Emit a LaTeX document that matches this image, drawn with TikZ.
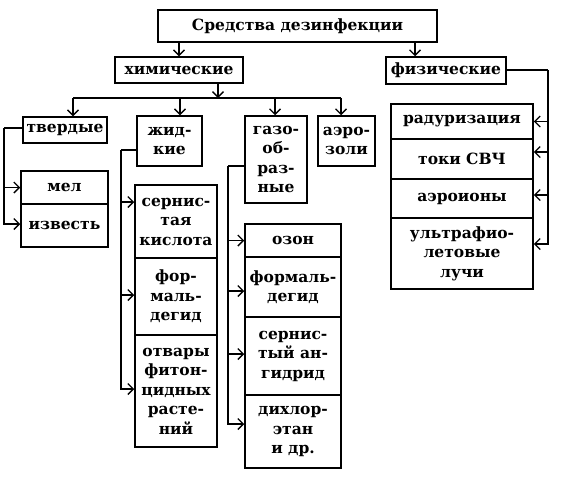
\documentclass[tikz,border=0pt]{standalone}
\usepackage{fontspec}
\setmainfont{DejaVu Serif}
\usetikzlibrary{arrows.meta}
\newcommand\cellbox[6]{\node[box, minimum width={(#4-#2)*1pt}, minimum height={(#5-#3)*1pt}] (#1) at ({(#2+#4)/2},{(#3+#5)/2}) {#6};}
\begin{document}
\begin{tikzpicture}[x=1pt,y=-1pt,
  box/.style={draw, line width=1.5pt, inner sep=0pt, align=center, font=\fontsize{15.5}{19.5}\selectfont\bfseries},
  conn/.style={line width=1.2pt},
  arr/.style={conn, -{Straight Barb[length=5.5pt,width=11pt,line width=1.4pt]}}]
\useasboundingbox (0,0) rectangle (586,477);
% top
\cellbox{title}{158}{10}{437}{42}{Средства дезинфекции}
\cellbox{chem}{115}{57}{243}{83}{химические}
\cellbox{phys}{386}{57}{506}{84}{физические}
% second level
\cellbox{tv}{23}{117}{107}{143}{твердые}
\cellbox{zh}{137}{116}{202}{166}{жид-\\кие}
\cellbox{gas}{245}{116}{307}{203}{газо-\\об-\\раз-\\ные}
\cellbox{aer}{318}{116}{375}{166}{аэро-\\золи}
% solids
\cellbox{mel}{21}{171}{108}{204}{мел}
\cellbox{izv}{21}{204}{108}{247}{известь}
% liquids
\cellbox{sern}{135}{185}{217}{258}{сернис-\\тая\\кислота}
\cellbox{formA}{135}{258}{217}{335}{фор-\\маль-\\дегид}
\cellbox{otv}{135}{335}{217}{447}{отвары\\фитон-\\цидных\\расте-\\ний}
% gases
\cellbox{ozon}{245}{224}{341}{257}{озон}
\cellbox{formB}{245}{257}{341}{317}{формаль-\\дегид}
\cellbox{sang}{245}{317}{341}{395}{сернис-\\тый ан-\\гидрид}
\cellbox{dich}{245}{395}{341}{468}{дихлор-\\этан\\и др.}
% physical
\cellbox{rad}{391}{104}{533}{139}{радуризация}
\cellbox{svch}{391}{139}{533}{179}{токи СВЧ}
\cellbox{aeroi}{391}{179}{533}{218}{аэроионы}
\cellbox{uf}{391}{218}{533}{289}{ультрафио-\\летовые\\лучи}
% connectors from title
\draw[arr] (title.south -| chem.north) -- (chem.north);
\draw[arr] (title.south -| 415,0) -- (phys.north -| 415,0);
% bus
\coordinate (busL) at (73,98);
\coordinate (busR) at (341,98);
\draw[arr] (chem.south -| 218,0) -- (busL -| 218,0);
\draw[conn] (busL) -- (busR);
\draw[arr] (busL) -- (tv.north -| busL);
\draw[arr] (busL -| 180,0) -- (zh.north -| 180,0);
\draw[arr] (busL -| 275,0) -- (gas.north -| 275,0);
\draw[arr] (busR) -- (aer.north -| busR);
% solids
\coordinate (tvL) at (4,128);
\draw[conn] (tv.west |- tvL) -- (tvL);
\draw[arr] (tvL) |- (izv.west |- 0,224);
\draw[arr] (tvL |- mel.west) -- (mel.west);
% liquids
\coordinate (zhL) at (121,150);
\draw[conn] (zh.west |- zhL) -- (zhL);
\draw[arr] (zhL) |- (otv.west |- 0,389);
\draw[arr] (zhL |- 0,202) -- (sern.west |- 0,202);
\draw[arr] (zhL |- 0,295) -- (formA.west |- 0,295);
% gases
\coordinate (gasL) at (228,166);
\draw[conn] (gas.west |- gasL) -- (gasL);
\draw[arr] (gasL) |- (dich.west |- 0,424);
\draw[arr] (gasL |- ozon.west) -- (ozon.west);
\draw[arr] (gasL |- 0,291) -- (formB.west |- 0,291);
\draw[arr] (gasL |- 0,354) -- (sang.west |- 0,354);
% physical
\coordinate (phR) at (548,70);
\draw[conn] (phys.east |- phR) -- (phR);
\draw[arr] (phR) |- (uf.east |- 0,244);
\draw[arr] (phR |- rad.east) -- (rad.east);
\draw[arr] (phR |- 0,152) -- (svch.east |- 0,152);
\draw[arr] (phR |- 0,195) -- (aeroi.east |- 0,195);
\end{tikzpicture}
\end{document}
